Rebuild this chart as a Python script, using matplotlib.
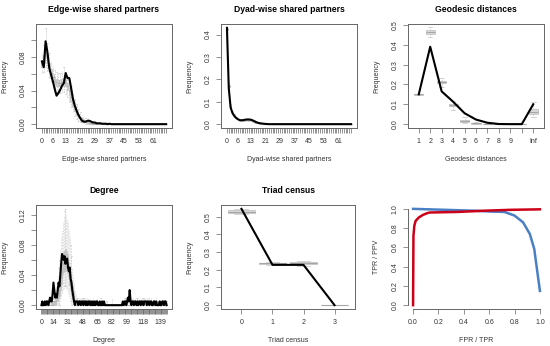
import matplotlib
matplotlib.use('Agg')
import matplotlib.pyplot as plt

plt.rcParams['font.family'] = ['Liberation Sans', 'DejaVu Sans']

# ---- edge-wise shared partners (positions 0..68)
esp_shown = [0, 6, 13, 21, 29, 37, 45, 53, 61]
esp_obs = [0.075, 0.068, 0.099, 0.086, 0.067, 0.059, 0.051, 0.042, 0.034, 0.037,
           0.041, 0.046, 0.049, 0.061, 0.055, 0.055, 0.043, 0.030, 0.022, 0.016,
           0.011, 0.007, 0.004, 0.003, 0.003, 0.004, 0.004, 0.003, 0.002, 0.002,
           0.001, 0.001, 0.001, 0.0005, 0.0005, 0.0005, 0.0, 0.0005, 0.0, 0.0] + [0.0] * 29
esp_med = [0.072, 0.078, 0.085, 0.079, 0.068, 0.061, 0.056, 0.052, 0.050, 0.049,
           0.049, 0.050, 0.050, 0.049, 0.045, 0.039, 0.032, 0.025, 0.019, 0.014,
           0.010, 0.007, 0.005, 0.004, 0.003, 0.002, 0.0015, 0.001, 0.0007, 0.0005,
           0.0003] + [0.0] * 38
esp_q1 = [0.068, 0.073, 0.080, 0.074, 0.063, 0.057, 0.052, 0.048, 0.046, 0.045,
          0.045, 0.046, 0.046, 0.045, 0.041, 0.035, 0.028, 0.022, 0.016, 0.011,
          0.008, 0.005, 0.003, 0.002, 0.002, 0.001, 0.001, 0.0005, 0.0003, 0.0002,
          0.0001] + [0.0] * 38
esp_q3 = [0.076, 0.083, 0.090, 0.084, 0.073, 0.066, 0.060, 0.056, 0.054, 0.053,
          0.053, 0.054, 0.055, 0.053, 0.049, 0.043, 0.036, 0.029, 0.022, 0.017,
          0.012, 0.009, 0.007, 0.005, 0.004, 0.003, 0.002, 0.0015, 0.001, 0.0008,
          0.0005] + [0.0] * 38
esp_lo = [0.060, 0.062, 0.068, 0.064, 0.055, 0.049, 0.044, 0.040, 0.038, 0.037,
          0.037, 0.038, 0.038, 0.036, 0.032, 0.026, 0.020, 0.015, 0.010, 0.006,
          0.004, 0.002, 0.001, 0.0005, 0.0, 0.0, 0.0, 0.0, 0.0, 0.0,
          0.0] + [0.0] * 38
esp_hi = [0.085, 0.095, 0.115, 0.097, 0.085, 0.076, 0.069, 0.065, 0.062, 0.061,
          0.061, 0.063, 0.068, 0.062, 0.058, 0.052, 0.045, 0.037, 0.030, 0.024,
          0.018, 0.014, 0.011, 0.009, 0.007, 0.006, 0.005, 0.004, 0.003, 0.002,
          0.0015] + [0.0] * 38

# ---- dyad-wise shared partners (positions 0..68)
dsp_obs = [0.43, 0.16, 0.075, 0.050, 0.037, 0.028, 0.022, 0.018, 0.017, 0.018,
           0.020, 0.021, 0.021, 0.020, 0.017, 0.013, 0.009, 0.006, 0.004, 0.003,
           0.002, 0.001, 0.0005] + [0.0] * 46
dsp_med = [0.425, 0.17, 0.080, 0.052, 0.038, 0.029, 0.023, 0.019, 0.018, 0.018,
           0.019, 0.020, 0.020, 0.019, 0.016, 0.012, 0.009, 0.006, 0.004, 0.003,
           0.002, 0.001, 0.0005] + [0.0] * 46
dsp_q1 = [0.420, 0.165, 0.077, 0.049, 0.036, 0.027, 0.021, 0.017, 0.016, 0.016,
          0.017, 0.018, 0.018, 0.017, 0.014, 0.010, 0.007, 0.005, 0.003, 0.002,
          0.001, 0.0005, 0.0] + [0.0] * 46
dsp_q3 = [0.430, 0.175, 0.083, 0.055, 0.040, 0.031, 0.025, 0.021, 0.020, 0.020,
          0.021, 0.022, 0.022, 0.021, 0.018, 0.014, 0.011, 0.008, 0.005, 0.004,
          0.003, 0.0015, 0.001] + [0.0] * 46
dsp_lo = [0.412, 0.155, 0.072, 0.045, 0.033, 0.024, 0.018, 0.014, 0.013, 0.013,
          0.014, 0.015, 0.015, 0.014, 0.011, 0.007, 0.004, 0.002, 0.001, 0.0,
          0.0, 0.0, 0.0] + [0.0] * 46
dsp_hi = [0.430, 0.185, 0.088, 0.059, 0.044, 0.034, 0.028, 0.024, 0.023, 0.023,
          0.024, 0.025, 0.025, 0.024, 0.021, 0.017, 0.013, 0.010, 0.007, 0.005,
          0.004, 0.002, 0.0015] + [0.0] * 46

# ---- geodesic distances (positions 1..11)
geo_labels = ['1', '2', '3', '4', '5', '6', '7', '8', '9', '', 'Inf']
geo_obs = [0.150, 0.390, 0.165, 0.113, 0.055, 0.023, 0.007, 0.0005, 0.0, 0.0, 0.100]
geo_med = [0.150, 0.465, 0.210, 0.097, 0.017, 0.004, 0.001, 0.0, 0.0, 0.0, 0.063]
geo_q1 = [0.148, 0.455, 0.205, 0.090, 0.012, 0.002, 0.0, 0.0, 0.0, 0.0, 0.053]
geo_q3 = [0.152, 0.475, 0.216, 0.103, 0.022, 0.006, 0.002, 0.0, 0.0, 0.0, 0.075]
geo_lo = [0.146, 0.440, 0.187, 0.073, 0.004, 0.0, 0.0, 0.0, 0.0, 0.0, 0.035]
geo_hi = [0.154, 0.488, 0.230, 0.118, 0.035, 0.010, 0.005, 0.0, 0.0, 0.0, 0.110]

# ---- degree (positions 0..146)
deg_shown = [0, 14, 31, 48, 65, 82, 99, 118, 139]
deg_obs = [0, 0.005, 0, 0, 0.005, 0, 0.005, 0.005, 0, 0.005,
           0.01, 0.005, 0.005, 0.015, 0.03, 0.02, 0.01, 0.015, 0.01, 0.02,
           0.03, 0.025, 0.04, 0.055, 0.068, 0.065, 0.06, 0.065, 0.055, 0.06,
           0.062, 0.05, 0.045, 0.05, 0.035, 0.03, 0.02, 0.012, 0.005, 0,
           0.005, 0.005, 0.005, 0, 0.005, 0.005, 0, 0.005, 0.005, 0,
           0.005, 0.005, 0, 0.005, 0, 0.005, 0.005, 0, 0.005, 0,
           0.005, 0, 0.005, 0, 0.005, 0.005, 0, 0, 0.005, 0,
           0, 0.005, 0, 0.005, 0, 0, 0, 0, 0, 0,
           0, 0, 0, 0, 0, 0, 0, 0, 0, 0,
           0, 0, 0, 0, 0, 0.005, 0, 0.005, 0.005, 0,
           0.005, 0.01, 0.005, 0.02, 0.005, 0, 0.005, 0.005, 0, 0.005,
           0.005, 0, 0.005, 0, 0.005, 0.005, 0, 0.005, 0.005, 0,
           0.005, 0.005, 0.005, 0, 0.005, 0.005, 0, 0.005, 0.005, 0,
           0, 0.005, 0.005, 0, 0.005, 0, 0, 0, 0.005, 0,
           0, 0.005, 0.005, 0, 0.005, 0.005, 0]
deg_hi = [0, 0, 0, 0, 0, 0.005, 0.005, 0.005, 0.005, 0.005,
          0.005, 0.01, 0.01, 0.01, 0.015, 0.015, 0.02, 0.025, 0.03, 0.04,
          0.05, 0.06, 0.075, 0.09, 0.10, 0.11, 0.118, 0.125, 0.128, 0.12,
          0.115, 0.11, 0.10, 0.09, 0.08, 0.065, 0.05, 0.04, 0.03, 0.02,
          0.015, 0.01, 0.01, 0.01, 0.01, 0.01, 0.01, 0.01, 0.01, 0.01,
          0.01, 0.01, 0.01, 0.01, 0.01, 0.005, 0.005, 0.01, 0.005, 0.005,
          0.01, 0.005, 0.005, 0.005, 0.005, 0.01, 0.005, 0.005, 0.005, 0.01,
          0.005, 0.005, 0.005, 0.005, 0.005, 0.005, 0.005, 0, 0, 0,
          0, 0, 0.01, 0, 0, 0, 0, 0, 0, 0,
          0, 0, 0, 0, 0.005, 0.005, 0.005, 0.01, 0.01, 0.01,
          0.01, 0.01, 0.01, 0.01, 0.01, 0.005, 0.01, 0.01, 0.005, 0.01,
          0.005, 0.01, 0.01, 0.005, 0.005, 0.01, 0.01, 0.005, 0.01, 0.01,
          0.01, 0.01, 0.01, 0.01, 0.005, 0.01, 0.005, 0.005, 0.01, 0.005,
          0.005, 0.005, 0.005, 0.005, 0.01, 0.005, 0.005, 0.005, 0.005, 0.005,
          0.005, 0.005, 0.005, 0.005, 0.005, 0.005, 0.005]
deg_q3 = [0, 0, 0, 0, 0, 0, 0, 0, 0, 0,
          0, 0.005, 0.005, 0.005, 0.005, 0.005, 0.01, 0.01, 0.015, 0.02,
          0.025, 0.03, 0.04, 0.05, 0.058, 0.065, 0.07, 0.072, 0.075, 0.072,
          0.068, 0.063, 0.057, 0.05, 0.042, 0.034, 0.025, 0.018, 0.012, 0.008,
          0.005, 0.005] + [0.0] * 105
deg_med = [0, 0, 0, 0, 0, 0, 0, 0, 0, 0,
           0, 0, 0, 0, 0.005, 0.005, 0.005, 0.005, 0.01, 0.01,
           0.015, 0.02, 0.03, 0.038, 0.045, 0.05, 0.055, 0.058, 0.06, 0.058,
           0.055, 0.05, 0.045, 0.038, 0.03, 0.022, 0.015, 0.01, 0.006, 0.003,
           0.002, 0] + [0.0] * 105
deg_q1 = [0, 0, 0, 0, 0, 0, 0, 0, 0, 0,
          0, 0, 0, 0, 0, 0, 0, 0, 0.005, 0.005,
          0.01, 0.012, 0.02, 0.028, 0.035, 0.04, 0.044, 0.046, 0.048, 0.046,
          0.043, 0.038, 0.033, 0.027, 0.02, 0.014, 0.008, 0.005, 0.002, 0,
          0, 0] + [0.0] * 105
deg_lo = [0, 0, 0, 0, 0, 0, 0, 0, 0, 0,
          0, 0, 0, 0, 0, 0, 0, 0, 0, 0,
          0, 0, 0.005, 0.01, 0.015, 0.02, 0.022, 0.025, 0.025, 0.022,
          0.02, 0.015, 0.012, 0.008, 0.005, 0, 0, 0, 0, 0,
          0, 0] + [0.0] * 105

# ---- triad census (positions 0..3)
tri_obs = [0.545, 0.228, 0.228, 0.0]
tri_med = [0.530, 0.237, 0.238, 0.001]
tri_q1 = [0.524, 0.232, 0.232, 0.0]
tri_q3 = [0.536, 0.240, 0.245, 0.002]
tri_lo = [0.516, 0.228, 0.224, 0.0]
tri_hi = [0.543, 0.245, 0.250, 0.003]

# ---- ROC / PR curves
roc_fpr = [0.0, 0.003, 0.01, 0.02, 0.045, 0.075, 0.11, 0.13, 0.35, 0.59, 0.77, 1.0]
roc_tpr = [0.0, 0.72, 0.825, 0.875, 0.91, 0.935, 0.955, 0.962, 0.968, 0.982, 0.99, 0.995]
pr_tpr = [0.0, 0.25, 0.5, 0.61, 0.72, 0.80, 0.867, 0.92, 0.955, 0.973, 1.0]
pr_ppv = [1.0, 0.99, 0.98, 0.972, 0.968, 0.93, 0.86, 0.74, 0.585, 0.41, 0.148]

TXT = '#333333'
EDGE = '#666666'

fig = plt.figure(figsize=(5.5, 3.46), dpi=100)


def px_axes(left, top, right, bottom):
    return fig.add_axes([left / 550, 1 - bottom / 346, (right - left) / 550, (bottom - top) / 346])


def r_style(ax, title, xlabel, ylabel, box=True):
    for s in ax.spines.values():
        s.set_color(EDGE)
        s.set_linewidth(0.7)
    if not box:
        ax.spines['top'].set_visible(False)
        ax.spines['right'].set_visible(False)
    ax.tick_params(direction='out', length=3.5, width=0.5, color=EDGE,
                   labelsize=5, labelcolor=TXT, pad=3.5)
    ax.tick_params(axis='y', labelrotation=90)
    for lab in ax.get_yticklabels():
        lab.set_va('center')
    if title:
        ax.set_title(title, fontsize=6.2, fontweight='bold', pad=8.5)
    ax.set_xlabel(xlabel, fontsize=5, color=TXT, labelpad=8)
    ax.set_ylabel(ylabel, fontsize=5, color=TXT, labelpad=8)


def sims(ax, pos, lo, q1, med, q3, hi, width, dash):
    stats = [dict(whislo=a, q1=b, med=c, q3=d, whishi=e)
             for a, b, c, d, e in zip(lo, q1, med, q3, hi)]
    ax.bxp(stats, positions=pos, widths=width, showfliers=False, patch_artist=True,
           manage_ticks=False,
           boxprops=dict(facecolor='#d9d9d9', edgecolor='#bdbdbd', linewidth=0.5),
           medianprops=dict(color='#a6a6a6', linewidth=0.8),
           whiskerprops=dict(color='#c4c4c4', linewidth=0.5, linestyle=dash),
           capprops=dict(color='#c4c4c4', linewidth=0.5))


def dense_ticks(ax, n, shown):
    ax.set_xticks(range(n))
    ax.set_xticklabels([str(i) if i in shown else '' for i in range(n)])


# Edge-wise shared partners
ax = px_axes(36, 24, 172, 128)
pos = list(range(len(esp_obs)))
sims(ax, pos, esp_lo, esp_q1, esp_med, esp_q3, esp_hi, 0.8, (0, (2, 1.5)))
ax.plot(pos, esp_obs, color='black', lw=1.5, zorder=5)
ax.set_xlim(-3.26, 71.26)
ax.set_ylim(-0.0046, 0.1196)
dense_ticks(ax, len(esp_obs), esp_shown)
ax.set_yticks([0.0, 0.02, 0.04, 0.06, 0.08, 0.10])
ax.set_yticklabels(['0.00', '', '0.04', '', '0.08', ''])
r_style(ax, 'Edge-wise shared partners', 'Edge-wise shared partners', 'Frequency')

# Dyad-wise shared partners
ax = px_axes(221, 24, 357, 128)
pos = list(range(len(dsp_obs)))
sims(ax, pos, dsp_lo, dsp_q1, dsp_med, dsp_q3, dsp_hi, 0.8, (0, (2, 1.5)))
ax.plot(pos, dsp_obs, color='black', lw=1.5, zorder=5)
ax.set_xlim(-3.26, 71.26)
ax.set_ylim(-0.0172, 0.4472)
dense_ticks(ax, len(dsp_obs), esp_shown)
ax.set_yticks([0.0, 0.1, 0.2, 0.3, 0.4])
ax.set_yticklabels(['0.0', '0.1', '0.2', '0.3', '0.4'])
r_style(ax, 'Dyad-wise shared partners', 'Dyad-wise shared partners', 'Frequency')

# Geodesic distances
ax = px_axes(408, 24, 544, 128)
pos = list(range(1, len(geo_obs) + 1))
sims(ax, pos, geo_lo, geo_q1, geo_med, geo_q3, geo_hi, 0.8, (0, (2, 1.5)))
ax.plot(pos, geo_obs, color='black', lw=1.5, zorder=5)
ax.set_xlim(0.06, 11.94)
ax.set_ylim(-0.0195, 0.5045)
ax.set_xticks(pos)
ax.set_xticklabels(geo_labels)
ax.set_yticks([0.0, 0.1, 0.2, 0.3, 0.4, 0.5])
ax.set_yticklabels(['0.0', '0.1', '0.2', '0.3', '0.4', '0.5'])
r_style(ax, 'Geodesic distances', 'Geodesic distances', 'Frequency')

# Degree
ax = px_axes(36, 205, 172, 309)
pos = list(range(len(deg_obs)))
sims(ax, pos, deg_lo, deg_q1, deg_med, deg_q3, deg_hi, 0.8, (0, (1, 1.2)))
ax.plot(pos, deg_obs, color='black', lw=1.5, zorder=5)
ax.set_xlim(-6.38, 152.38)
ax.set_ylim(-0.0051, 0.1331)
dense_ticks(ax, len(deg_obs), deg_shown)
ax.set_yticks([0.0, 0.02, 0.04, 0.06, 0.08, 0.10, 0.12])
ax.set_yticklabels(['0.00', '', '0.04', '', '0.08', '', '0.12'])
r_style(ax, 'Degree', 'Degree', 'Frequency')

# Triad census
ax = px_axes(221, 205, 355, 309)
pos = list(range(len(tri_obs)))
sims(ax, pos, tri_lo, tri_q1, tri_med, tri_q3, tri_hi, 0.9, (0, (2, 1.5)))
ax.plot(pos, tri_obs, color='black', lw=1.5, zorder=5)
ax.set_xlim(-0.66, 3.66)
ax.set_ylim(-0.0218, 0.5668)
ax.set_xticks(pos)
ax.set_xticklabels([str(p) for p in pos])
ax.set_yticks([0.0, 0.1, 0.2, 0.3, 0.4, 0.5])
ax.set_yticklabels(['0.0', '0.1', '0.2', '0.3', '0.4', '0.5'])
r_style(ax, 'Triad census', 'Triad census', 'Frequency')

# ROC / PR
ax = px_axes(408, 205, 545, 309)
ax.plot(pr_tpr, pr_ppv, color='#4a7fc4', lw=1.8, zorder=4)
ax.plot(roc_fpr, roc_tpr, color='#cc0018', lw=1.8, zorder=5)
ax.set_xlim(-0.04, 1.04)
ax.set_ylim(-0.04, 1.04)
ticks = [0.0, 0.2, 0.4, 0.6, 0.8, 1.0]
ax.set_xticks(ticks)
ax.set_xticklabels(['%.1f' % t for t in ticks])
ax.set_yticks(ticks)
ax.set_yticklabels(['%.1f' % t for t in ticks])
ax.spines['left'].set_bounds(0, 1)
ax.spines['bottom'].set_bounds(0, 1)
r_style(ax, None, 'FPR / TPR', 'TPR / PPV', box=False)

fig.savefig('out.png', dpi=100)
